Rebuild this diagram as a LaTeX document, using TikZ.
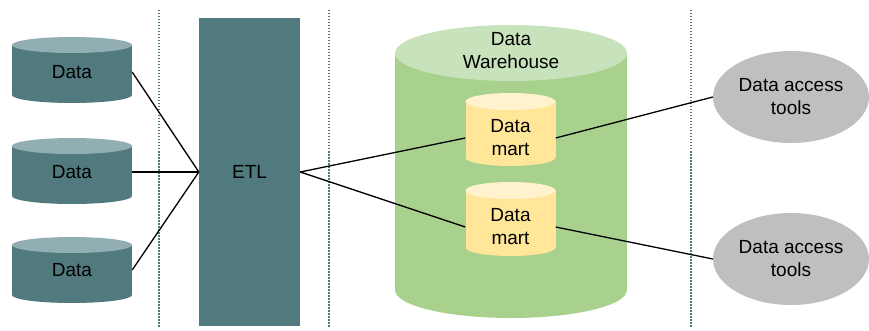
\documentclass[tikz,border=0pt]{standalone}
\usepackage{fontspec}
\setmainfont{Liberation Sans}
\usepackage{xcolor}
\usepackage{tikz}
\usetikzlibrary{shapes.geometric}
\usetikzlibrary{arrows}

\definecolor{srcbody}{HTML}{507A7E}
\definecolor{srccap}{HTML}{91AFB2}
\definecolor{whbody}{HTML}{A9D18E}
\definecolor{whcap}{HTML}{C8E2BC}
\definecolor{martbody}{HTML}{FFE699}
\definecolor{martcap}{HTML}{FFF2CC}
\definecolor{toolgray}{HTML}{BFBFBF}

\tikzset{
    lbl/.style = {align=center, font=\fontsize{19}{23}\selectfont, inner sep=0pt},
    srcnode/.style = {lbl, minimum width=120pt, minimum height=60pt},
    martnode/.style = {lbl, minimum width=90pt, minimum height=50pt},
    etlbox/.style = {lbl, fill=srcbody, minimum width=101pt, minimum height=308pt},
    toolnode/.style = {lbl, ellipse, fill=toolgray, minimum width=156pt, minimum height=92pt},
    sep/.style = {draw=srcbody, line width=1.5pt, dash pattern=on 1.5pt off 1.5pt},
    link/.style = {draw=black, line width=1.3pt}
}

\begin{document}
\begin{tikzpicture}[x=1pt, y=-1pt]
        \useasboundingbox (0, 0) rectangle (869, 331);

        % separators
        \draw[sep] (159, 10) -- (159, 328);
        \draw[sep] (329, 10) -- (329, 328);
        \draw[sep] (691, 10) -- (691, 328);

        % sources
        \fill[srcbody] (72, 95) ellipse [x radius=60pt, y radius=8pt];
        \fill[srcbody] (12, 45) rectangle (132, 95);
        \fill[srccap] (72, 45) ellipse [x radius=60pt, y radius=8pt];
        \fill[srcbody] (72, 196) ellipse [x radius=60pt, y radius=8pt];
        \fill[srcbody] (12, 146) rectangle (132, 196);
        \fill[srccap] (72, 146) ellipse [x radius=60pt, y radius=8pt];
        \fill[srcbody] (72, 295) ellipse [x radius=60pt, y radius=8pt];
        \fill[srcbody] (12, 245) rectangle (132, 295);
        \fill[srccap] (72, 245) ellipse [x radius=60pt, y radius=8pt];
        \node[srcnode] (src1) at (72, 72) {Data};
        \node[srcnode] (src2) at (72, 172) {Data};
        \node[srcnode] (src3) at (72, 270) {Data};

        % etl
        \node[etlbox] (etl) at (249.5, 172) {ETL};

        % warehouse
        \fill[whbody] (511, 290) ellipse [x radius=116pt, y radius=28pt];
        \fill[whbody] (395, 53) rectangle (627, 290);
        \fill[whcap] (511, 53) ellipse [x radius=116pt, y radius=28pt];
        \node[lbl] (wh) at (511, 51) {Data\\Warehouse};

        % marts
        \fill[martbody] (510.5, 157.5) ellipse [x radius=45pt, y radius=8.5pt];
        \fill[martbody] (465.5, 101.5) rectangle (555.5, 157.5);
        \fill[martcap] (510.5, 101.5) ellipse [x radius=45pt, y radius=8.5pt];
        \fill[martbody] (510.5, 247.5) ellipse [x radius=45pt, y radius=8.5pt];
        \fill[martbody] (465.5, 190.5) rectangle (555.5, 247.5);
        \fill[martcap] (510.5, 190.5) ellipse [x radius=45pt, y radius=8.5pt];
        \node[martnode] (mart1) at (510.5, 138) {Data\\mart};
        \node[martnode] (mart2) at (510.5, 227) {Data\\mart};

        % tools
        \node[toolnode] (tool1) at (791, 97) {Data access\\tools};
        \node[toolnode] (tool2) at (791, 259) {Data access\\tools};

        \draw[link] (src1.east) -- (etl.west);
        \draw[link] (src2.east) -- (etl.west);
        \draw[link] (src3.east) -- (etl.west);
        \draw[link] (etl.east) -- (mart1.west);
        \draw[link] (etl.east) -- (mart2.west);
        \draw[link] (mart1.east) -- (tool1.west);
        \draw[link] (mart2.east) -- (tool2.west);
    \end{tikzpicture}
\end{document}
